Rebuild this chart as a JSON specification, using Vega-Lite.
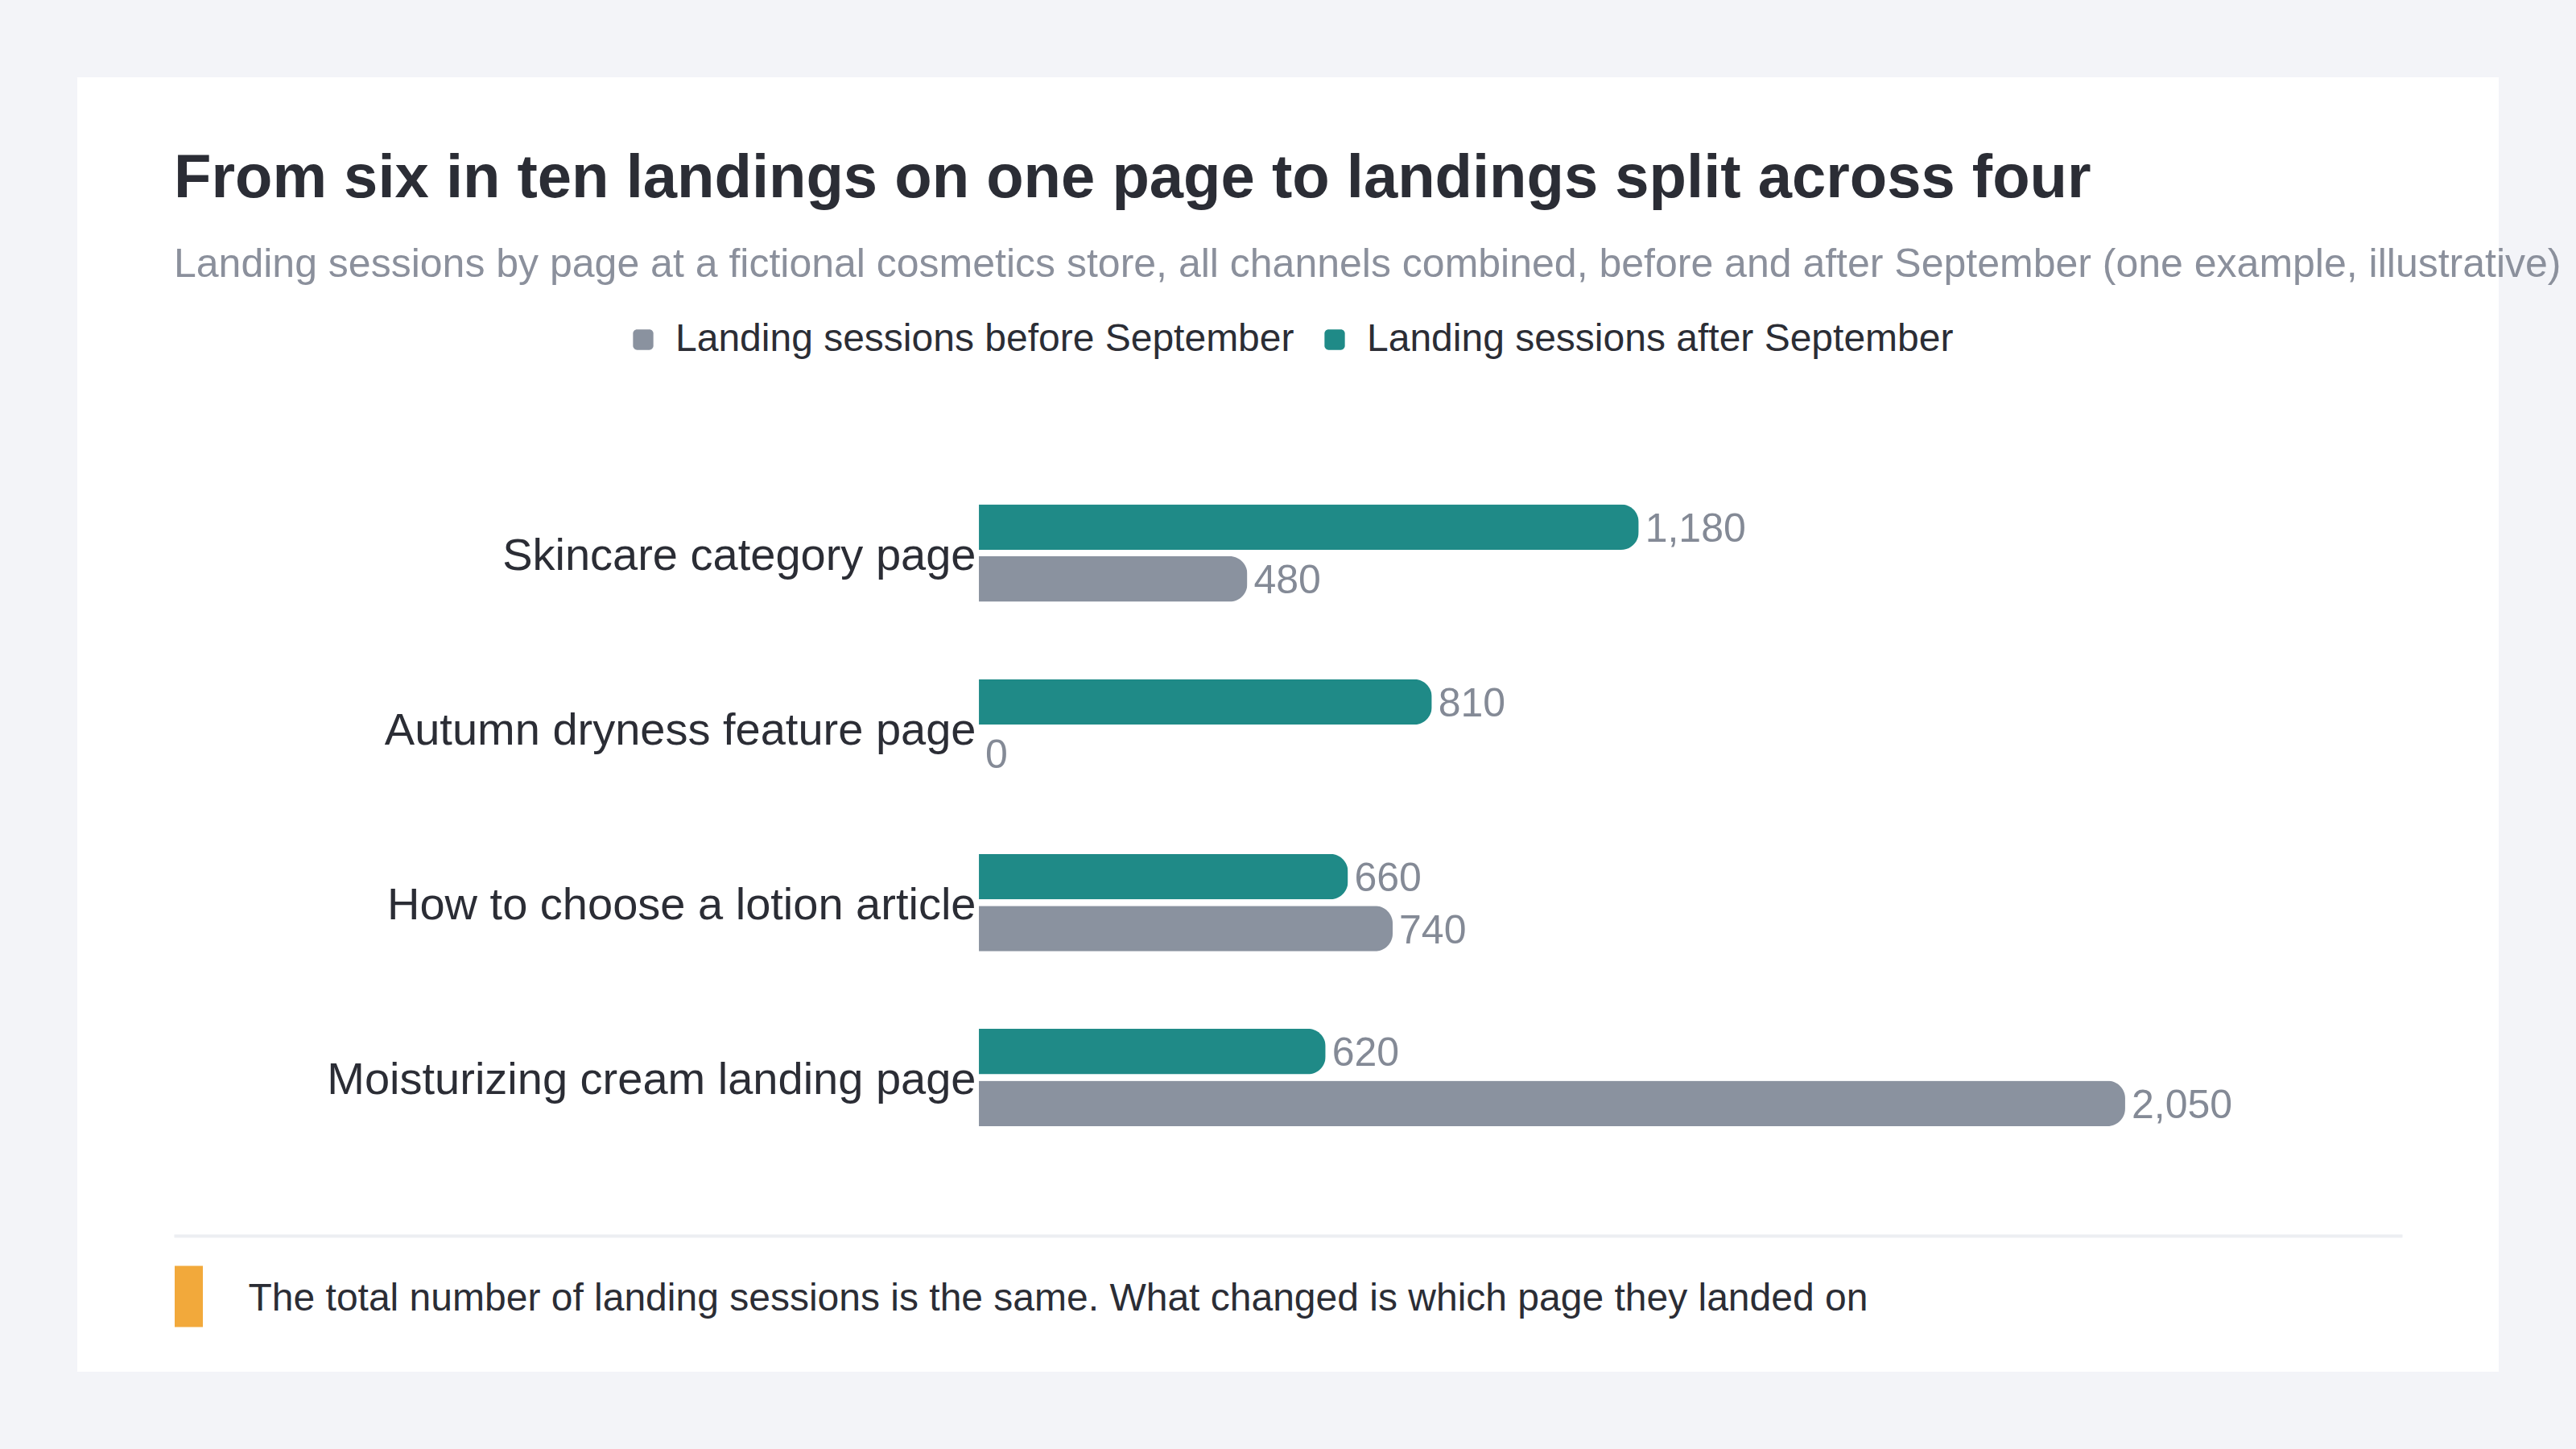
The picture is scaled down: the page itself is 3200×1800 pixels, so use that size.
{
  "$schema": "https://vega.github.io/schema/vega-lite/v6.json",
  "width": 3008,
  "height": 1608,
  "autosize": {"type": "none"},
  "padding": {"left": 96, "top": 96, "right": 96, "bottom": 96},
  "background": "#f3f4f8",
  "config": {
    "font": "Liberation Sans",
    "view": {"fill": "#ffffff", "stroke": null}
  },
  "title": {
    "text": "From six in ten landings on one page to landings split across four",
    "subtitle": "Landing sessions by page at a fictional cosmetics store, all channels combined, before and after September (one example, illustrative)",
    "anchor": "start",
    "frame": "group",
    "orient": "top",
    "offset": -259,
    "dx": 120,
    "limit": 4000,
    "font": "Liberation Sans",
    "fontSize": 76,
    "fontWeight": "bold",
    "color": "#2b2d35",
    "subtitleFont": "Liberation Sans",
    "subtitleFontSize": 50,
    "subtitleColor": "#8b909c",
    "subtitlePadding": 43
  },
  "data": {
    "values": [
      {"page": "Skincare category page", "series": "Landing sessions after September", "sessions": 1180},
      {"page": "Skincare category page", "series": "Landing sessions before September", "sessions": 480},
      {"page": "Autumn dryness feature page", "series": "Landing sessions after September", "sessions": 810},
      {"page": "Autumn dryness feature page", "series": "Landing sessions before September", "sessions": 0},
      {"page": "How to choose a lotion article", "series": "Landing sessions after September", "sessions": 660},
      {"page": "How to choose a lotion article", "series": "Landing sessions before September", "sessions": 740},
      {"page": "Moisturizing cream landing page", "series": "Landing sessions after September", "sessions": 620},
      {"page": "Moisturizing cream landing page", "series": "Landing sessions before September", "sessions": 2050}
    ]
  },
  "encoding": {
    "y": {
      "field": "page",
      "type": "nominal",
      "scale": {
        "domain": ["Skincare category page", "Autumn dryness feature page", "How to choose a lotion article", "Moisturizing cream landing page"],
        "range": [482.5, 1351],
        "paddingInner": 0.4424,
        "paddingOuter": 0.2212
      },
      "axis": {
        "orient": "left",
        "offset": -1120,
        "title": null,
        "domain": false,
        "ticks": false,
        "tickSize": 0,
        "grid": false,
        "labelPadding": 4,
        "labelOffset": 4,
        "labelFontSize": 56,
        "labelColor": "#2b2d35",
        "labelLimit": 2000
      }
    },
    "yOffset": {
      "field": "series",
      "type": "nominal",
      "sort": ["Landing sessions after September", "Landing sessions before September"],
      "scale": {"paddingInner": 0.124, "paddingOuter": 0}
    },
    "x": {
      "field": "sessions",
      "type": "quantitative",
      "scale": {"domain": [-1439.7, 2545.3], "range": [120, 2888], "nice": false},
      "axis": {
        "orient": "bottom",
        "offset": -169,
        "grid": false,
        "labels": false,
        "domain": true,
        "domainColor": "#eceef2",
        "domainWidth": 4,
        "domainCap": "butt",
        "values": [-1413.1],
        "ticks": true,
        "tickSize": 113,
        "tickWidth": 35,
        "tickCap": "butt",
        "tickColor": "#f2a93b",
        "tickDash": [0, 37, 76, 400],
        "title": "The total number of landing sessions is the same. What changed is which page they landed on",
        "titleX": 212,
        "titleY": 92,
        "titleAlign": "left",
        "titleAnchor": "start",
        "titleBaseline": "alphabetic",
        "titleFontSize": 48,
        "titleFontWeight": "normal",
        "titleColor": "#2b2d35",
        "titleLimit": 4000
      }
    }
  },
  "layer": [
    {
      "mark": {"type": "bar", "cornerRadiusEnd": 22},
      "encoding": {
        "color": {
          "field": "series",
          "type": "nominal",
          "scale": {
            "domain": ["Landing sessions before September", "Landing sessions after September"],
            "range": ["#8a929f", "#1f8a87"]
          },
          "legend": {
            "title": null,
            "orient": "none",
            "legendX": 679,
            "legendY": 302,
            "direction": "horizontal",
            "padding": 0,
            "symbolType": "M -0.6 -1 H 0.6 A 0.4 0.4 0 0 1 1 -0.6 V 0.6 A 0.4 0.4 0 0 1 0.6 1 H -0.6 A 0.4 0.4 0 0 1 -1 0.6 V -0.6 A 0.4 0.4 0 0 1 -0.6 -1 Z",
            "symbolSize": 640,
            "symbolStrokeWidth": 0,
            "symbolOpacity": 1,
            "labelFontSize": 48,
            "labelColor": "#2b2d35",
            "labelOffset": 16,
            "labelLimit": 2000,
            "columnPadding": 26
          }
        }
      }
    },
    {
      "mark": {"type": "text", "align": "left", "baseline": "middle", "dx": 8, "dy": 3, "fontSize": 50, "color": "#848a96"},
      "encoding": {
        "text": {"field": "sessions", "type": "quantitative", "format": ","}
      }
    }
  ]
}
